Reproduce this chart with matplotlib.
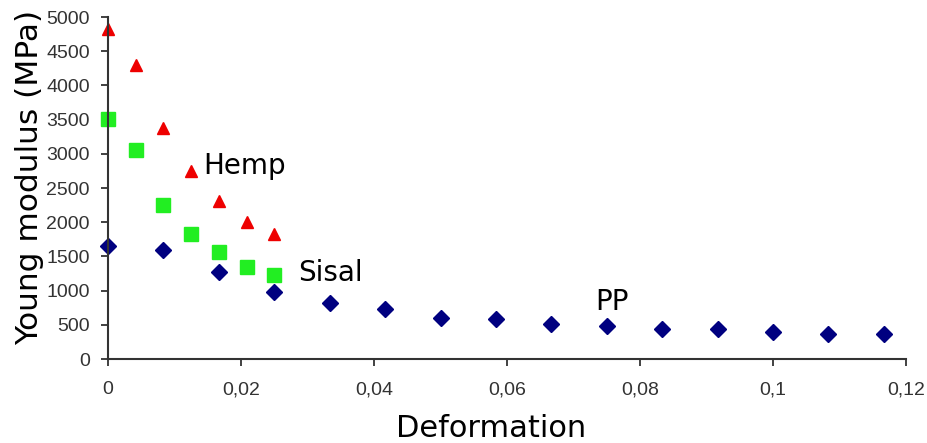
import matplotlib
matplotlib.use("Agg")
import matplotlib.pyplot as plt

# PP (diamonds)
pp_x = [0, 0.00833, 0.01667, 0.025, 0.03333, 0.04167, 0.05, 0.05833,
        0.06667, 0.075, 0.08333, 0.09167, 0.1, 0.10833, 0.11667]
pp_y = [1645, 1590, 1272, 975, 820, 728, 603, 590, 510, 485, 440, 440,
        400, 370, 370]

# Sisal (squares)
sisal_x = [0, 0.00417, 0.00833, 0.0125, 0.01667, 0.02083, 0.025]
sisal_y = [3510, 3050, 2255, 1830, 1565, 1345, 1230]

# Hemp (triangles)
hemp_x = [0, 0.00417, 0.00833, 0.0125, 0.01667, 0.02083, 0.025]
hemp_y = [4820, 4300, 3380, 2750, 2310, 2000, 1830]

x_ticks = [0, 0.02, 0.04, 0.06, 0.08, 0.1, 0.12]
x_labels = ["0", "0,02", "0,04", "0,06", "0,08", "0,1", "0,12"]
y_ticks = list(range(0, 5001, 500))

fig = plt.figure(figsize=(9.28, 4.43), dpi=100)
ax = fig.add_axes([0.1164, 0.1896, 0.86, 0.772])

ax.plot(pp_x, pp_y, linestyle="none", marker="D", markersize=8,
        color="#000080", clip_on=False)
ax.plot(sisal_x, sisal_y, linestyle="none", marker="s", markersize=9.5,
        color="#22ee22", clip_on=False)
ax.plot(hemp_x, hemp_y, linestyle="none", marker="^", markersize=8.5,
        color="#ee0000", clip_on=False)

ax.set_xlim(0, 0.12)
ax.set_ylim(0, 5000)
ax.set_xticks(x_ticks)
ax.set_xticklabels(x_labels)
ax.set_yticks(y_ticks)

for s in ("top", "right"):
    ax.spines[s].set_visible(False)
for s in ("left", "bottom"):
    ax.spines[s].set_color("#333333")
    ax.spines[s].set_linewidth(1.5)

ax.tick_params(direction="out", length=5, width=1.3, color="#333333",
               labelcolor="#333333", labelsize=14)
ax.tick_params(axis="x", pad=11)
ax.tick_params(axis="y", pad=8)
for lab in ax.get_xticklabels() + ax.get_yticklabels():
    lab.set_family("Liberation Sans")

ax.set_xlabel("Deformation", fontsize=22, family="DejaVu Sans")
ax.xaxis.set_label_coords(0.48, -0.16)
ax.set_ylabel("Young modulus (MPa)", fontsize=22.5, family="DejaVu Sans")
ax.yaxis.set_label_coords(-0.08, 0.532)

# series labels
ax.text(0.0143, 2822, "Hemp", fontsize=20, va="center", ha="left")
ax.text(0.0286, 1257, "Sisal", fontsize=20, va="center", ha="left")
ax.text(0.0732, 833, "PP", fontsize=20, va="center", ha="left")

fig.savefig("out.png", dpi=100, facecolor="white")
